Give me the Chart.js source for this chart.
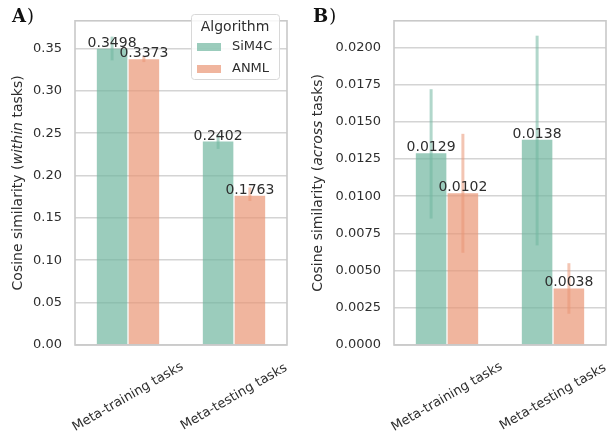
<!DOCTYPE html>
<html>
<head>
<meta charset="utf-8">
<script src="https://cdn.jsdelivr.net/npm/chart.js@4.4.0/dist/chart.umd.min.js"></script>
<style>
  html, body { margin: 0; padding: 0; background: #fff; }
  #wrap { position: relative; width: 609px; height: 431px; }
  .panel { position: absolute; top: 0; height: 431px; }
  #pa { left: 0; width: 300px; }
  #pb { left: 300px; width: 309px; }
</style>
</head>
<body>
<div id="wrap">
  <div class="panel" id="pa"><canvas id="chartA"></canvas></div>
  <div class="panel" id="pb"><canvas id="chartB"></canvas></div>
</div>
<script>
// -- DATA
const categories = ['Meta-training tasks', 'Meta-testing tasks'];
const algorithms = ['SiM4C', 'ANML'];

// panel A: within tasks
const withinSiM4C   = [0.3498, 0.2402];
const withinANML    = [0.3373, 0.1763];
const withinSiM4CLo = [0.336, 0.2315];
const withinSiM4CHi = [0.364, 0.2485];
const withinANMLLo  = [0.334, 0.170];
const withinANMLHi  = [0.341, 0.186];

// panel B: across tasks
const acrossSiM4C   = [0.0129, 0.0138];
const acrossANML    = [0.0102, 0.0038];
const acrossSiM4CLo = [0.0085, 0.0067];
const acrossSiM4CHi = [0.0172, 0.0208];
const acrossANMLLo  = [0.0062, 0.0021];
const acrossANMLHi  = [0.0142, 0.0055];

const barColors = ['rgba(113,182,160,0.7)', 'rgba(233,149,117,0.7)'];
const errColors = ['rgba(113,182,160,0.55)', 'rgba(233,149,117,0.55)'];
const textColor = '#2e2e2e';
const SANS = "'DejaVu Sans', sans-serif";
const SERIF = "'DejaVu Serif', serif";

// -- DECORATION PLUGIN (error bars, value labels, frame, axis texts)
function makeDecor(o) {
  return {
    id: 'decor',
    afterDatasetsDraw(chart) {
      const ctx = chart.ctx, ys = chart.scales.y, a = chart.chartArea;
      // frame
      ctx.save();
      ctx.strokeStyle = '#c9c9c9';
      ctx.lineWidth = 1.6;
      ctx.strokeRect(a.left, a.top, a.right - a.left, a.bottom - a.top);
      ctx.restore();
      // error bars
      chart.data.datasets.forEach((ds, di) => {
        chart.getDatasetMeta(di).data.forEach((bar, i) => {
          ctx.save();
          ctx.strokeStyle = errColors[di];
          ctx.lineWidth = 3;
          ctx.beginPath();
          ctx.moveTo(bar.x, ys.getPixelForValue(o.lo[di][i]));
          ctx.lineTo(bar.x, ys.getPixelForValue(o.hi[di][i]));
          ctx.stroke();
          ctx.restore();
        });
      });
      // value labels
      chart.data.datasets.forEach((ds, di) => {
        chart.getDatasetMeta(di).data.forEach((bar, i) => {
          ctx.save();
          ctx.fillStyle = textColor;
          ctx.font = '14px ' + SANS;
          ctx.textAlign = 'center';
          ctx.textBaseline = 'alphabetic';
          ctx.fillText(ds.data[i].toFixed(4), bar.x, bar.y - 2);
          ctx.restore();
        });
      });
    },
    afterDraw(chart) {
      const ctx = chart.ctx, a = chart.chartArea, xs = chart.scales.x;
      // rotated x labels, centred on the tick
      categories.forEach((c, i) => {
        ctx.save();
        ctx.translate(xs.getPixelForValue(i), a.bottom + 52);
        ctx.rotate(-30 * Math.PI / 180);
        ctx.fillStyle = textColor;
        ctx.font = '13px ' + SANS;
        ctx.textAlign = 'center';
        ctx.textBaseline = 'middle';
        ctx.fillText(c, 0, 0);
        ctx.restore();
      });
      // y title with italic part
      const parts = [
        ['Cosine similarity (', 'normal'],
        [o.word, 'italic'],
        [' tasks)', 'normal']
      ];
      ctx.save();
      ctx.translate(o.titleX, (a.top + a.bottom) / 2);
      ctx.rotate(-Math.PI / 2);
      ctx.fillStyle = textColor;
      ctx.textBaseline = 'middle';
      ctx.textAlign = 'left';
      let total = 0;
      parts.forEach(p => { ctx.font = p[1] + ' 14px ' + SANS; total += ctx.measureText(p[0]).width; });
      let x = -total / 2;
      parts.forEach(p => {
        ctx.font = p[1] + ' 14px ' + SANS;
        ctx.fillText(p[0], x, 0);
        x += ctx.measureText(p[0]).width;
      });
      ctx.restore();
      // panel letter
      ctx.save();
      ctx.fillStyle = '#111';
      ctx.textBaseline = 'alphabetic';
      ctx.font = 'bold 18px ' + SERIF;
      ctx.fillText(o.letter, o.letterX, 22);
      const w = ctx.measureText(o.letter).width;
      ctx.font = '18px ' + SERIF;
      ctx.fillText(')', o.letterX + w + 1, 22);
      ctx.restore();
      // legend
      if (o.legend) {
        ctx.save();
        ctx.fillStyle = 'rgba(255,255,255,0.85)';
        ctx.strokeStyle = '#d8d8d8';
        ctx.lineWidth = 1;
        ctx.beginPath();
        ctx.roundRect(191.5, 14.5, 88, 65, 3);
        ctx.fill();
        ctx.stroke();
        ctx.fillStyle = textColor;
        ctx.font = '14px ' + SANS;
        ctx.textAlign = 'center';
        ctx.textBaseline = 'middle';
        ctx.fillText('Algorithm', 235, 27);
        algorithms.forEach((n, i) => {
          const cy = 47 + i * 22;
          ctx.fillStyle = barColors[i];
          ctx.fillRect(197, cy - 4, 24, 8);
          ctx.fillStyle = textColor;
          ctx.font = '13px ' + SANS;
          ctx.textAlign = 'left';
          ctx.fillText(n, 232, cy);
        });
        ctx.restore();
      }
    }
  };
}

function makeChart(id, sim, anml, yMax, step, dec, yWidth, padRight, decor) {
  return new Chart(document.getElementById(id), {
    type: 'bar',
    data: {
      labels: categories,
      datasets: [
        { label: algorithms[0], data: sim,  backgroundColor: barColors[0], barPercentage: 0.96, categoryPercentage: 0.6 },
        { label: algorithms[1], data: anml, backgroundColor: barColors[1], barPercentage: 0.96, categoryPercentage: 0.6 }
      ]
    },
    options: {
      responsive: true, maintainAspectRatio: false, animation: false,
      layout: { padding: { left: 0, right: padRight, top: 6, bottom: 0 } },
      plugins: { legend: { display: false }, tooltip: { enabled: false } },
      scales: {
        x: {
          grid: { display: false }, border: { display: false },
          ticks: { display: false },
          afterFit: s => { s.height = 86; }
        },
        y: {
          min: 0, max: yMax,
          grid: { color: '#d4d4d4', lineWidth: 1.6, drawTicks: false },
          border: { display: false },
          ticks: {
            stepSize: step, includeBounds: false, padding: 13, color: textColor,
            font: { family: SANS, size: 13 },
            callback: v => v.toFixed(dec)
          },
          afterFit: s => { s.width = yWidth; }
        }
      }
    },
    plugins: [makeDecor(decor)]
  });
}

makeChart('chartA', withinSiM4C, withinANML, 0.3827, 0.05, 2, 75, 13, {
  lo: [withinSiM4CLo, withinANMLLo], hi: [withinSiM4CHi, withinANMLHi],
  word: 'within', titleX: 18, letter: 'A', letterX: 12, legend: true
});
makeChart('chartB', acrossSiM4C, acrossANML, 0.0218, 0.0025, 4, 94, 3, {
  lo: [acrossSiM4CLo, acrossANMLLo], hi: [acrossSiM4CHi, acrossANMLHi],
  word: 'across', titleX: 18.5, letter: 'B', letterX: 13, legend: false
});
</script>
</body>
</html>
